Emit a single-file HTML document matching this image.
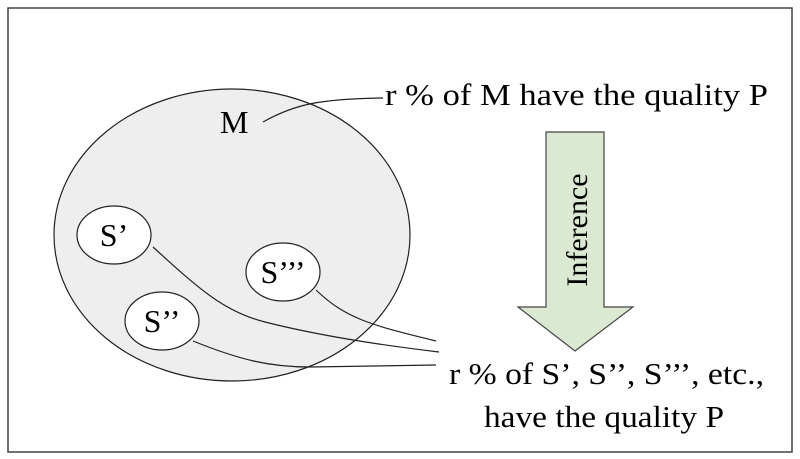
<!DOCTYPE html>
<html><head><style>
html,body{margin:0;padding:0;background:#fff;}
svg{display:block;}
text{font-family:"Liberation Serif","Times New Roman",Times,serif;fill:#000;}
</style></head><body>
<svg width="800" height="459" viewBox="0 0 800 459" xmlns="http://www.w3.org/2000/svg">
<rect x="8" y="8" width="784" height="444" fill="#fff" stroke="#444" stroke-width="1.5"/>
<ellipse cx="232" cy="235" rx="178" ry="146" fill="#eeeeee" stroke="#222" stroke-width="1.2"/>
<ellipse cx="114" cy="235" rx="37" ry="29" fill="#fff" stroke="#222" stroke-width="1.2"/>
<ellipse cx="283" cy="272" rx="37" ry="29" fill="#fff" stroke="#222" stroke-width="1.2"/>
<ellipse cx="162" cy="321" rx="37" ry="29" fill="#fff" stroke="#222" stroke-width="1.2"/>
<text x="114" y="246" font-size="32" text-anchor="middle">S’</text>
<text x="283" y="283" font-size="32" text-anchor="middle">S’’’</text>
<text x="162" y="332" font-size="32" text-anchor="middle">S’’</text>
<text x="220" y="133" font-size="32">M</text>
<g fill="none" stroke="#222" stroke-width="1.2">
<path d="M263,122 C295,104 320,99 383,98"/>
<path d="M153,247 C200,290 225,312 265,322 C320,336 380,345 439,352"/>
<path d="M316,290 C345,318 370,325 436,341"/>
<path d="M193,341 C240,360 270,367 310,367 L436,365"/>
</g>
<text x="385" y="105" font-size="31" textLength="383" lengthAdjust="spacingAndGlyphs">r % of M have the quality P</text>
<polygon points="546,132 604,132 604,307 633,307 575,351 518,307 546,307" fill="#dbe9d3" stroke="#444" stroke-width="1.2"/>
<text transform="translate(587,230) rotate(-90)" font-size="30" text-anchor="middle">Inference</text>
<text x="449" y="384" font-size="31" textLength="315" lengthAdjust="spacingAndGlyphs">r % of S’, S’’, S’’’, etc.,</text>
<text x="484" y="427" font-size="31" textLength="240" lengthAdjust="spacingAndGlyphs">have the quality P</text>
</svg>
</body></html>
